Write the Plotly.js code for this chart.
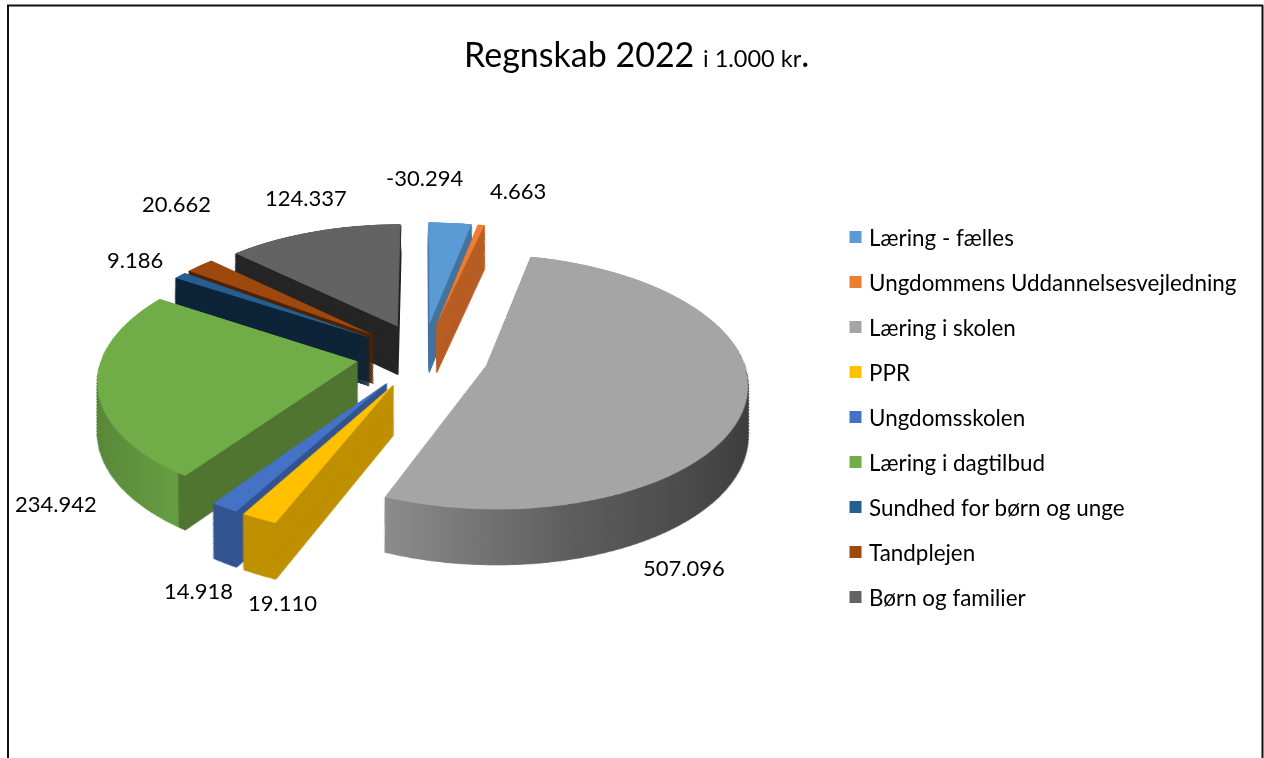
<!DOCTYPE html>
<html><head><meta charset="utf-8">
<script src="https://cdn.plot.ly/plotly-3.0.1.min.js"></script>
<style>html,body{margin:0;padding:0;background:#fff;overflow:hidden}#chart{width:1264px;height:758px}</style>
</head><body><div id="chart"></div>
<script>
const categories = ["Læring - fælles","Ungdommens Uddannelsesvejledning","Læring i skolen","PPR","Ungdomsskolen","Læring i dagtilbud","Sundhed for børn og unge","Tandplejen","Børn og familier"];
const values = [-30294,4663,507096,19110,14918,234942,9186,20662,124337];
const topColors = ["#5b9bd5","#ed7d31","#a5a5a5","#ffc000","#4472c4","#70ad47","#255e91","#9e480e","#636363"];
const sideColors = ["#44749f","#b85e24","#6a6a6a","#bf9000","#33558f","#4f7530","#0e2438","#4d2406","#262626"];
const labelX = [424,518,684,282,198,56,135,176,306];
const labelY = [178,190,567,602,590,503,260,203,197];

const fmt = v => (v<0?"-":"")+Math.abs(v).toString().replace(/\B(?=(\d{3})+$)/g,".");
const W=1264,H=758,cx=423,cy=355,R=255,PULL=0.26,TILT=61.2,PERSP=1700,DEPTH=98,STEP=1.5;
const K=Math.sin(TILT*Math.PI/180)/PERSP;
const avail=R*(1+PULL);
const base={type:"pie",values:values.map(Math.abs),labels:categories,sort:false,direction:"clockwise",rotation:0,
  pull:values.map(()=>PULL),textinfo:"none",hoverinfo:"label+value",
  domain:{x:[(cx-avail)/W,(cx+avail)/W],y:[(H-cy-avail)/H,(H-cy+avail)/H]}};
const traces=[];
const nSide=Math.round(DEPTH/STEP);
for(let i=nSide;i>=1;i--){
  traces.push(Object.assign({},base,{showlegend:false,marker:{colors:sideColors,line:{color:sideColors,width:1}}}));
}
traces.push(Object.assign({},base,{showlegend:true,marker:{colors:topColors,line:{width:0}}}));

const annotations=values.map((v,i)=>({text:fmt(v),x:labelX[i]/W,y:1-labelY[i]/H,xref:"paper",yref:"paper",xanchor:"center",yanchor:"middle",showarrow:false,font:{family:"Lato, sans-serif",size:22,color:"#000"}}));
annotations.push({text:'Regnskab 2022 <span style="font-size:23.5px">i 1.000 kr</span>.',x:636/W,y:1-53/H,xref:"paper",yref:"paper",xanchor:"center",yanchor:"middle",showarrow:false,font:{family:"Lato, sans-serif",size:34,color:"#000"}});

const layout={width:W,height:H,margin:{l:0,r:0,t:0,b:0},paper_bgcolor:"rgba(255,255,255,0)",showlegend:true,
  legend:{x:829/W,y:1-223/H,xanchor:"left",yanchor:"top",font:{family:"Lato, sans-serif",size:22.4,color:"#000"},traceorder:"normal",bgcolor:"rgba(0,0,0,0)"},
  annotations:annotations,
  shapes:[
 {type:"line",xref:"paper",yref:"paper",x0:8/W,x1:8/W,y0:0,y1:1-5/H,line:{color:"#111",width:2}},
 {type:"line",xref:"paper",yref:"paper",x0:7/W,x1:1263/W,y0:1-5.5/H,y1:1-5.5/H,line:{color:"#111",width:2}},
 {type:"line",xref:"paper",yref:"paper",x0:1262.5/W,x1:1262.5/W,y0:0,y1:1-5/H,line:{color:"#111",width:2}}
]};

function addGradient(svg,id,stops){
  const ns="http://www.w3.org/2000/svg";
  let defs=svg.querySelector("defs"); if(!defs){defs=document.createElementNS(ns,"defs");svg.insertBefore(defs,svg.firstChild);}
  const g=document.createElementNS(ns,"linearGradient"); g.setAttribute("id",id);
  stops.forEach(([o,c])=>{const s=document.createElementNS(ns,"stop");s.setAttribute("offset",o);s.setAttribute("stop-color",c);g.appendChild(s);});
  defs.appendChild(g);
}

Plotly.newPlot("chart",traces,layout,{displayModeBar:false}).then(()=>{
  const svg=document.querySelector("#chart .main-svg");
  addGradient(svg,"sideGray",[[0,"#8c8c8c"],[0.45,"#5e5e5e"],[1,"#3c3c3c"]]);
  addGradient(svg,"sideGreen",[[0,"#578538"],[0.40,"#669d42"],[0.405,"#4f7530"],[1,"#4f7530"]]);
  const groups=[...document.querySelectorAll("#chart .pielayer .trace")];
  groups.forEach((g,idx)=>{
    const d=(nSide-idx)*STEP;
    // lower layers of the extruded pie recede, so their walls stay upright after the tilt
    g.setAttribute("transform",`translate(${cx},${cy+d}) scale(${1-K*d},${1-1.2*K*d}) translate(${-cx},${-cy})`);
    if(d>0){
      const sl=g.querySelectorAll(".slice path.surface");
      [[2,"sideGray"],[5,"sideGreen"]].forEach(([i,id])=>{
        if(sl[i]){sl[i].style.fill=`url(#${id})`;sl[i].style.stroke=`url(#${id})`;}
      });
    }
  });
  svg.style.overflow="visible";
  svg.style.transformOrigin=`${cx}px ${cy}px`;
  svg.style.transform=`perspective(${PERSP}px) rotateX(${TILT}deg)`;
  const leg=document.querySelector("#chart .legend");
  if(leg){
    const sb=leg.querySelector(".scrollbox"); if(sb) sb.removeAttribute("clip-path");
    leg.removeAttribute("clip-path");
    [...leg.querySelectorAll(".traces")].forEach((r,i)=>{
      r.setAttribute("transform",`translate(0,${14+i*45})`);
      const p=r.querySelector(".legendpoints");
      if(p) p.setAttribute("transform",`translate(6.5,0) ${p.getAttribute("transform")||""}`);
    });
  }
});
</script></body></html>
